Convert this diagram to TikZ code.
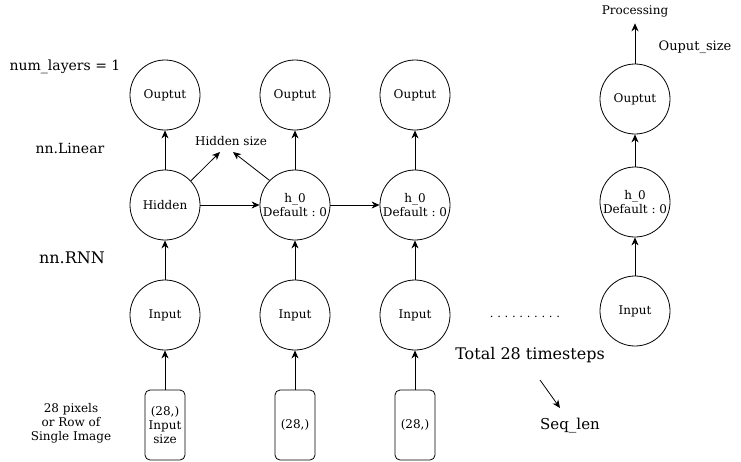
\documentclass[tikz,border=0pt]{standalone}
\usepackage{fontspec}
\setmainfont{DejaVu Serif}
\usetikzlibrary{arrows.meta}
\frenchspacing
\tikzstyle{every node}=[font=\fontsize{12}{14}\selectfont,align=center]
\tikzstyle{cell}=[draw=black,line width=0.8pt,circle,minimum size=70pt,inner sep=0pt]
\tikzstyle{vec}=[draw=black,line width=0.8pt,rounded corners=5pt,minimum width=40pt,minimum height=70pt,inner sep=0pt]
\tikzstyle{link}=[-{Stealth[length=8pt,width=7pt,inset=2.5pt]},line width=0.8pt]

\begin{document}
\begin{tikzpicture}[x=1pt,y=-1pt]
    \useasboundingbox (0,0) rectangle (741,461);
    \node (nl) at (65,67) {\fontsize{14}{16}\selectfont num\_layers = 1};
    \node (lin) at (70,148) {\fontsize{14}{16}\selectfont nn.Linear};
    \node (rnn) at (72,258) {\fontsize{16}{18}\selectfont nn.RNN};
    \node (pix) at (71,423) {28 pixels\\or Row of\\Single Image};
    \node (o1) [cell] at (165,95) {Ouptut};
    \node (o2) [cell] at (295,95) {Ouptut};
    \node (o3) [cell] at (415,95) {Ouptut};
    \node (o4) [cell] at (635,99) {Ouptut};
    \node (h1) [cell] at (165,205) {Hidden};
    \node (h2) [cell] at (295,205) {h\_0\\Default : 0};
    \node (h3) [cell] at (415,205) {h\_0\\Default : 0};
    \node (h4) [cell] at (635,202) {h\_0\\Default : 0};
    \node (i1) [cell] at (165,315) {Input};
    \node (i2) [cell] at (295,315) {Input};
    \node (i3) [cell] at (415,315) {Input};
    \node (i4) [cell] at (635,311) {Input};
    \node (x1) [vec] at (165,425) {(28,)\\Input\\size};
    \node (x2) [vec] at (295,425) {(28,)};
    \node (x3) [vec] at (415,425) {(28,)};
    \node (hs) at (231,141) {Hidden size};
    \node (proc) at (635,11) {Processing};
    \node (osz) at (695,47) {\fontsize{13}{15}\selectfont Ouput\_size};
    \node (dots) at (525,317) {\fontsize{11.6}{13}\selectfont . . . . . . . . . .};
    \node (tot) at (530,355) {\fontsize{16}{18}\selectfont Total 28 timesteps};
    \node (seq) at (570,426) {\fontsize{15}{17}\selectfont Seq\_len};
    \coordinate (hsa) at (220,152);
    \coordinate (hsb) at (233,152);
    \coordinate (ta) at (540,380);
    \coordinate (tb) at (560,408);
    \foreach \n in {1,2,3} {
        \draw[link] (x\n) -- (i\n);
    }
    \foreach \n in {1,2,3,4} {
        \draw[link] (i\n) -- (h\n);
        \draw[link] (h\n) -- (o\n);
    }
    \draw[link] (h1) -- (h2);
    \draw[link] (h2) -- (h3);
    \draw[link] (o4) -- ([yshift=-3pt]proc.south);
    \draw[link] (h1.43) -- (hsa);
    \draw[link] (h2.136) -- (hsb);
    \draw[link] (ta) -- (tb);
\end{tikzpicture}
\end{document}
